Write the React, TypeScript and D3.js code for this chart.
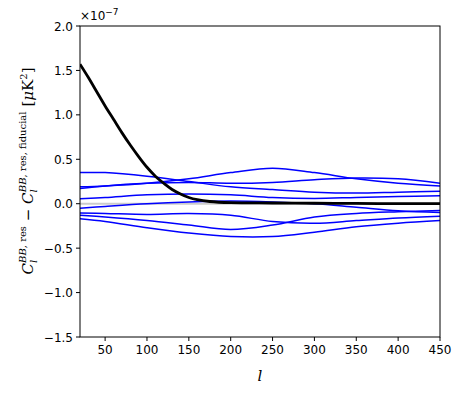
import React from "react";
import * as d3 from "d3";

const ells = [20, 50, 100, 150, 200, 250, 300, 350, 400, 450];

const blue1 = [0.35, 0.35, 0.31, 0.25, 0.19, 0.16, 0.13, 0.12, 0.13, 0.14];
const blue2 = [0.19, 0.2, 0.23, 0.28, 0.35, 0.4, 0.35, 0.28, 0.23, 0.2];
const blue3 = [0.17, 0.2, 0.23, 0.24, 0.23, 0.24, 0.27, 0.29, 0.28, 0.23];
const blue4 = [0.056, 0.07, 0.1, 0.11, 0.1, 0.07, 0.06, 0.07, 0.08, 0.09];
const blue5 = [-0.05, -0.03, 0.0, 0.02, 0.03, 0.02, 0.0, -0.04, -0.08, -0.1];
const blue6 = [-0.105, -0.11, -0.12, -0.11, -0.13, -0.2, -0.22, -0.19, -0.16, -0.14];
const blue7 = [-0.13, -0.15, -0.19, -0.24, -0.29, -0.24, -0.15, -0.11, -0.09, -0.075];
const blue8 = [-0.17, -0.2, -0.27, -0.33, -0.37, -0.37, -0.32, -0.26, -0.22, -0.19];

const blueSeries = [blue1, blue2, blue3, blue4, blue5, blue6, blue7, blue8];

const fiducialEll = [20, 30, 40, 50, 60, 70, 80, 90, 100, 110, 120, 130, 140, 150, 160, 175, 200, 250, 300, 350, 400, 450];
const fiducialDiff = [1.57, 1.42, 1.26, 1.1, 0.95, 0.8, 0.66, 0.53, 0.41, 0.31, 0.23, 0.16, 0.11, 0.07, 0.045, 0.025, 0.012, 0.008, 0.005, 0.003, 0.001, 0.0];

const xTicks = [50, 100, 150, 200, 250, 300, 350, 400, 450];
const yTicks = [-1.5, -1.0, -0.5, 0.0, 0.5, 1.0, 1.5, 2.0];

const W = 463;
const H = 393;
const left = 80;
const right = 440;
const top = 26;
const bottom = 337;

export default function App() {
  const x = d3.scaleLinear().domain([20, 450]).range([left, right]);
  const y = d3.scaleLinear().domain([-1.5, 2.0]).range([bottom, top]);

  const line = d3
    .line<[number, number]>()
    .x((d) => x(d[0]))
    .y((d) => y(d[1]))
    .curve(d3.curveCatmullRom.alpha(0.5));

  const tickFont = "DejaVu Sans, sans-serif";
  const mathFont = "DejaVu Serif, serif";
  const fs = 12;

  const minus = (v: number) => (v < 0 ? "\u2212" + Math.abs(v).toFixed(1) : v.toFixed(1));

  return (
    <svg
      width={W}
      height={H}
      style={{ position: "absolute", left: 0, top: 0, background: "white" }}
    >
      <defs>
        <clipPath id="plotclip">
          <rect x={left} y={top} width={right - left} height={bottom - top} />
        </clipPath>
      </defs>
      <g clipPath="url(#plotclip)">
        <line x1={left} x2={right} y1={y(0)} y2={y(0)} stroke="#cccccc" strokeWidth={2} />
        {blueSeries.map((s, i) => (
          <path
            key={i}
            d={line(ells.map((e, j) => [e, s[j]] as [number, number])) || ""}
            fill="none"
            stroke="#0000ff"
            strokeWidth={1.5}
          />
        ))}
        <path
          d={line(fiducialEll.map((e, j) => [e, fiducialDiff[j]] as [number, number])) || ""}
          fill="none"
          stroke="#000000"
          strokeWidth={2.8}
        />
      </g>
      <rect
        x={left}
        y={top}
        width={right - left}
        height={bottom - top}
        fill="none"
        stroke="#000"
        strokeWidth={1}
      />
      {xTicks.map((t) => (
        <g key={"x" + t}>
          <line x1={x(t)} x2={x(t)} y1={bottom} y2={bottom + 4} stroke="#000" />
          <text
            x={x(t)}
            y={bottom + 17}
            textAnchor="middle"
            fontFamily={tickFont}
            fontSize={fs}
          >
            {t}
          </text>
        </g>
      ))}
      {yTicks.map((t) => (
        <g key={"y" + t}>
          <line x1={left - 4} x2={left} y1={y(t)} y2={y(t)} stroke="#000" />
          <text
            x={left - 7}
            y={y(t) + 4.5}
            textAnchor="end"
            fontFamily={tickFont}
            fontSize={fs}
          >
            {minus(t)}
          </text>
        </g>
      ))}
      <text x={left} y={20} fontFamily={tickFont} fontSize={fs}>
        ×10
        <tspan dy={-5} fontSize={9}>
          {"\u22127"}
        </tspan>
      </text>
      <text
        x={(left + right) / 2}
        y={381}
        textAnchor="middle"
        fontFamily={mathFont}
        fontStyle="italic"
        fontSize={15}
      >
        l
      </text>
      <g transform="translate(33,171) rotate(-90)">
        <text textAnchor="middle" fontFamily={mathFont} fontSize={15}>
          <tspan fontStyle="italic">C</tspan>
          <tspan fontStyle="italic" fontSize={10} dy={4}>l</tspan>
          <tspan fontSize={10} dx={-3} dy={-11}>
            <tspan fontStyle="italic">BB</tspan>, res
          </tspan>
          <tspan dy={7}> − </tspan>
          <tspan fontStyle="italic">C</tspan>
          <tspan fontStyle="italic" fontSize={10} dy={4}>l</tspan>
          <tspan fontSize={10} dx={-3} dy={-11}>
            <tspan fontStyle="italic">BB</tspan>, res, fiducial
          </tspan>
          <tspan dy={7} dx={5}>[</tspan>
          <tspan fontStyle="italic">μ</tspan>
          <tspan>K</tspan>
          <tspan fontSize={10} dy={-6}>2</tspan>
          <tspan dy={6}>]</tspan>
        </text>
      </g>
    </svg>
  );
}
